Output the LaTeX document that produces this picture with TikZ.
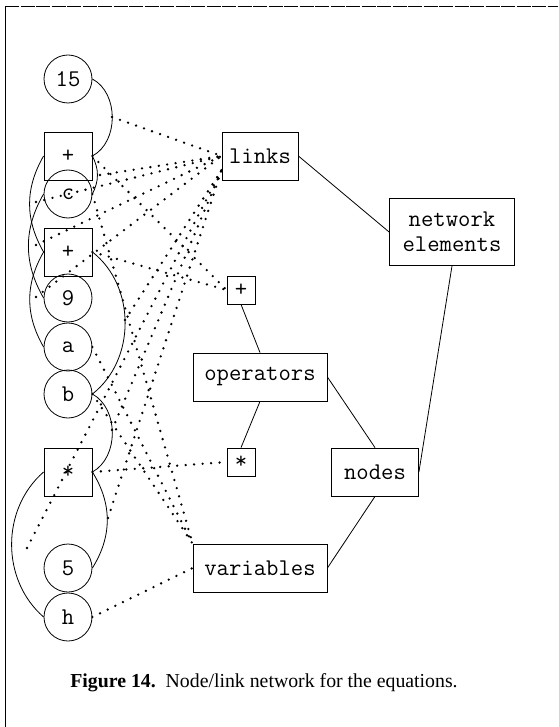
\documentclass[tikz,border=0pt]{standalone}
\usepackage{fontspec}
\setmainfont{Liberation Serif}
\newcommand\nettt{\ttfamily\fontsize{24}{25}\selectfont}

\tikzset{
  val/.style={draw, circle, minimum size=48pt, inner sep=0pt, font=\nettt},
  opbox/.style={draw, rectangle, minimum size=48pt, inner sep=0pt, font=\nettt},
  kind/.style={draw, rectangle, minimum height=48pt, inner sep=0pt, align=center, font=\nettt},
  tiny/.style={draw, rectangle, minimum size=28pt, inner sep=0pt, font=\nettt},
  tree/.style={line width=0.8pt},
  isa/.style={line width=2.6pt, line cap=round, dash pattern=on 0pt off 8.5pt}
}

\begin{document}
\begin{tikzpicture}[x=1pt,y=1pt,line width=0.8pt]
\useasboundingbox (0,0) rectangle (558,-727);
% page frame
\draw[dash pattern=on 14pt off 1.5pt] (5,-6) -- (558,-6);
\draw (5,-6) -- (5,-727);

% equation terms
\node[val]   (n15) at (68,-79)  {15};
\node[opbox] (p1)  at (68,-156) {+};
\node[val]   (nc)  at (68,-194) {c};
\node[opbox] (p2)  at (68,-252) {+};
\node[val]   (n9)  at (68,-298) {9};
\node[val]   (na)  at (68,-347) {a};
\node[val]   (nb)  at (68,-394) {b};
\node[opbox] (t1)  at (68,-472) {*};
\node[val]   (n5)  at (68,-568) {5};
\node[val]   (nh)  at (68,-617) {h};

% classes
\node[kind, minimum width=76pt]  (links) at (260,-156) {links};
\node[kind, minimum width=125pt, minimum height=67pt] (netel) at (452,-232) {network\\elements};
\node[tiny] (plus)  at (241,-290) {+};
\node[kind, minimum width=134pt] (ops)   at (260,-377) {operators};
\node[tiny] (times) at (241,-462) {*};
\node[kind, minimum width=87pt]  (nodes) at (375,-472) {nodes};
\node[kind, minimum width=134pt] (vars)  at (260,-568) {variables};

% class hierarchy
\draw[tree] (links.east) -- (netel.west);
\draw[tree] (netel.south) -- (nodes.east);
\draw[tree] (plus.south) -- (ops.north);
\draw[tree] (ops.south) -- (times.north);
\draw[tree] (ops.east) -- (nodes.north);
\draw[tree] (nodes.south) -- (vars.east);

% links between terms
\draw[tree] (n15.east) to[bend left=62] (p1.east);
\draw[tree] (p1.east) to[bend left=27] (nc.east);
\draw[tree] (p1.west) to[bend right=30] (p2.west);
\draw[tree] (nc.west) to[bend right=30] (n9.west);
\draw[tree] (p2.west) to[bend right=30] (na.west);
\draw[tree] (p2.east) to[bend left=52] (nb.east);
\draw[tree] (nb.east) to[bend left=61] (t1.east);
\draw[tree] (t1.east) to[bend left=32] (n5.east);
\draw[tree] (t1.west) to[bend right=49] (nh.west);

% each link is a member of links
\coordinate (l1) at (112,-117);
\coordinate (l2) at (100,-175);
\coordinate (l3) at (36,-202);
\coordinate (l4) at (36,-245);
\coordinate (l5) at (36,-297);
\coordinate (l6) at (125,-320);
\coordinate (l7) at (112,-430);
\coordinate (l8) at (108,-518);
\coordinate (l9) at (27,-548);
\foreach \i in {1,...,5}
  \draw[isa] (l\i) -- (links.west);
\foreach \i in {6,...,9}
  \draw[isa] (l\i) -- ([yshift=-14pt]links.west);

% instances of operators and variables
\draw[isa] (p1.east) -- (plus.west);
\draw[isa] (p2.east) -- (plus.west);
\draw[isa] (t1.east) -- (times.west);
\foreach \v in {nc,na,nb}
  \draw[isa] (\v.east) -- (vars.north west);
\draw[isa] (nh.east) -- (vars.west);

\node (cap) at (264,-683) {\fontsize{19.8}{22}\selectfont\textbf{Figure 14.}\ \ Node/link network for the equations.};
\end{tikzpicture}
\end{document}
